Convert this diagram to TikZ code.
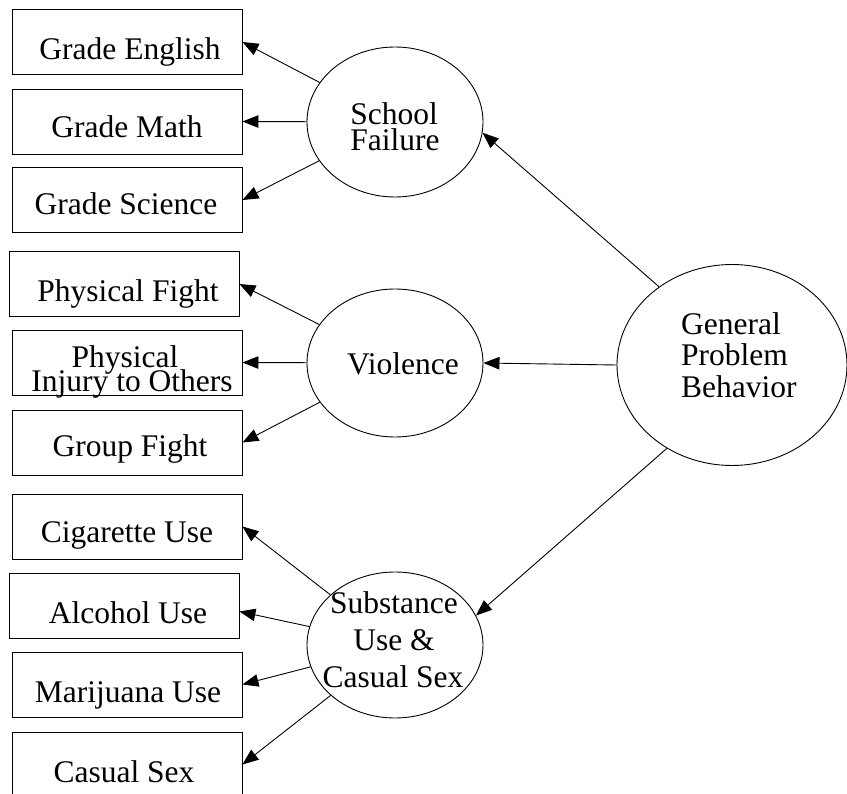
\documentclass[tikz,border=0pt]{standalone}
\usepackage{fontspec}
\setmainfont{Liberation Serif}
\usetikzlibrary{arrows.meta,shapes.geometric}
\begin{document}
\begin{tikzpicture}[x=1pt,y=-1pt,
  indicator/.style={draw, rectangle, minimum width=230pt, minimum height=65pt,
    inner sep=0pt, line width=0.9pt},
  factor/.style={draw, ellipse, inner sep=0pt, line width=0.9pt},
  lbl/.style={anchor=base, inner sep=0pt, font=\fontsize{31.5}{37}\selectfont},
  lblw/.style={lbl, anchor=base west},
  loading/.style={-{Triangle[length=16pt,width=12.5pt]}, line width=0.9pt}]
\useasboundingbox (0,0) rectangle (847,794);

% observed indicators
\node[indicator] (ge) at (127,42)    {};
\node[indicator] (gm) at (127,121.5) {};
\node[indicator] (gs) at (127,200)   {};
\node[indicator] (pf) at (124,284)   {};
\node[indicator] (pi) at (127,362.5) {};
\node[indicator] (gf) at (127,442.5) {};
\node[indicator] (cu) at (127,526.5) {};
\node[indicator] (au) at (124,605.5) {};
\node[indicator] (mu) at (127,684.5) {};
\node[indicator] (cs) at (127,764.5) {};

% latent factors
\node[factor, minimum width=176pt, minimum height=150pt] (sf)  at (395,122) {};
\node[factor, minimum width=176pt, minimum height=148pt] (vio) at (395,363) {};
\node[factor, minimum width=176pt, minimum height=146pt] (sub) at (395,645) {};
\node[factor, minimum width=230pt, minimum height=201pt] (gen) at (732,365) {};

% indicator labels
\node[lbl] (ge-t) at (130,60)  {Grade English};
\node[lbl] (gm-t) at (127,138) {Grade Math};
\node[lbl] (gs-t) at (126,215) {Grade Science};
\node[lbl] (pf-t) at (128,302) {Physical Fight};
\node[lbl] (pi-t1) at (125,368) {Physical};
\node[lbl] (pi-t2) at (132,392) {Injury to Others};
\node[lbl] (gf-t) at (130,457) {Group Fight};
\node[lbl] (cu-t) at (127,543) {Cigarette Use};
\node[lbl] (au-t) at (128,623) {Alcohol Use};
\node[lbl] (mu-t) at (128,702) {Marijuana Use};
\node[lbl] (cs-t) at (124,782) {Casual Sex};

% factor labels
\node[lbl] (sf-t1) at (394,125) {School};
\node[lbl] (sf-t2) at (395,151) {Failure};
\node[lbl] (vio-t) at (403,375) {Violence};
\node[lbl] (sub-t1) at (394,613) {Substance};
\node[lbl] (sub-t2) at (394,650) {Use \&};
\node[lbl] (sub-t3) at (393,687) {Casual Sex};
\node[lblw] (gen-t1) at (681,335) {General};
\node[lblw] (gen-t2) at (681,366) {Problem};
\node[lblw] (gen-t3) at (681,398) {Behavior};

% first-order loadings
\draw[loading] (sf)  -- (ge.east);
\draw[loading] (sf)  -- (gm.east);
\draw[loading] (sf)  -- (gs.east);
\draw[loading] (vio) -- (pf.east);
\draw[loading] (vio) -- (pi.east);
\draw[loading] (vio) -- (gf.east);
\draw[loading] (sub) -- (cu.east);
\draw[loading] (sub) -- ([yshift=-6pt]au.east);
\draw[loading] (sub) -- (mu.east);
\draw[loading] (sub) -- (cs.east);

% second-order loadings
\draw[loading] (gen.133)  -- (sf.-7);
\draw[loading] (gen.west) -- (vio.east);
\draw[loading] (gen.-128) -- (sub.20.6);
\end{tikzpicture}
\end{document}
